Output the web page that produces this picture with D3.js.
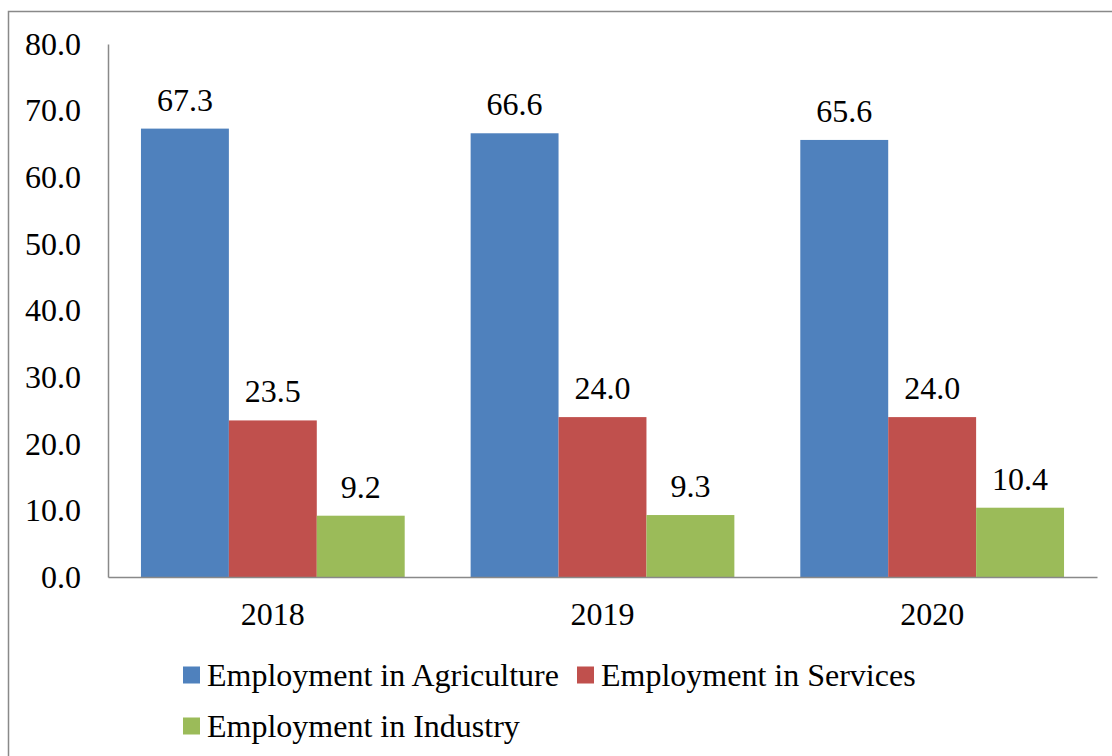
<!DOCTYPE html>
<html>
<head>
<meta charset="utf-8">
<title>Employment by sector</title>
<script src="https://d3js.org/d3.v7.min.js"></script>
<style>
	body { margin: 0; background: #fff; }
	text { font-family: "Liberation Serif", "Times New Roman", serif; fill: #000; }
</style>
</head>
<body>
<div id="chart"></div>
<script>
// data
var years = ["2018", "2019", "2020"];
var series = ["Employment in Agriculture", "Employment in Services", "Employment in Industry"];
var agriculture = [67.3, 66.6, 65.6];
var services = [23.5, 24.0, 24.0];
var industry = [9.2, 9.3, 10.4];
var yTicks = [0, 10, 20, 30, 40, 50, 60, 70, 80];

var colors = ["#4f81bd", "#c0504d", "#9bbb59"];
var values = [agriculture, services, industry];

var W = 1112, H = 756;
var plotLeft = 108, plotRight = 1097, plotTop = 44, plotBottom = 577;
var fs = "32px";

var svg = d3.select("#chart").append("svg")
	.attr("width", W)
	.attr("height", H);

// outer frame (runs off the right and bottom edge)
svg.append("rect")
	.attr("x", 8.5).attr("y", 11.5)
	.attr("width", 1200).attr("height", 900)
	.attr("fill", "none")
	.attr("stroke", "#898989")
	.attr("stroke-width", 1.5);

var x0 = d3.scaleBand()
	.domain(years)
	.range([plotLeft, plotRight])
	.paddingInner(0.2)
	.paddingOuter(0.1);

var x1 = d3.scaleBand()
	.domain(series)
	.range([0, x0.bandwidth()]);

var y = d3.scaleLinear()
	.domain([0, 80])
	.range([plotBottom, plotTop]);

// y axis
var yAxis = svg.append("g")
	.attr("transform", "translate(" + plotLeft + ",0)")
	.call(d3.axisLeft(y).tickValues(yTicks).tickSize(0).tickPadding(27).tickFormat(d3.format(".1f")));
yAxis.select(".domain").attr("stroke", "#898989").attr("stroke-width", 1.5);
yAxis.selectAll("text").style("font-size", fs).attr("font-family", null);

// bars
var groups = svg.selectAll(".year")
	.data(years)
	.enter().append("g")
	.attr("class", "year")
	.attr("transform", function(d) { return "translate(" + x0(d) + ",0)"; });

function rows(d, i) {
	return series.map(function(s, k) { return {s: s, k: k, v: values[k][i]}; });
}

groups.selectAll("rect")
	.data(rows)
	.enter().append("rect")
	.attr("x", function(d) { return x1(d.s); })
	.attr("y", function(d) { return y(d.v); })
	.attr("width", x1.bandwidth())
	.attr("height", function(d) { return plotBottom - y(d.v); })
	.attr("fill", function(d) { return colors[d.k]; });

groups.selectAll(".lbl")
	.data(rows)
	.enter().append("text")
	.attr("class", "lbl")
	.attr("x", function(d) { return x1(d.s) + x1.bandwidth() / 2; })
	.attr("y", function(d) { return y(d.v) - 18; })
	.attr("text-anchor", "middle")
	.style("font-size", fs)
	.text(function(d) { return d.v.toFixed(1); });

// x axis
var xAxis = svg.append("g")
	.attr("transform", "translate(0," + plotBottom + ")")
	.call(d3.axisBottom(x0).tickSize(0).tickPadding(25));
xAxis.select(".domain").attr("stroke", "#898989").attr("stroke-width", 1.5);
xAxis.selectAll("text").style("font-size", fs).attr("font-family", null);

// legend
var legendPos = [[183, 675], [577, 675], [183, 726]];
var legend = svg.selectAll(".legend")
	.data(series)
	.enter().append("g")
	.attr("class", "legend")
	.attr("transform", function(d, i) { return "translate(" + legendPos[i][0] + "," + legendPos[i][1] + ")"; });

legend.append("rect")
	.attr("x", 0).attr("y", -8.5)
	.attr("width", 17).attr("height", 17)
	.attr("fill", function(d, i) { return colors[i]; });

legend.append("text")
	.attr("x", 24)
	.attr("y", 0)
	.attr("dy", "0.35em")
	.style("font-size", fs)
	.text(function(d) { return d; });
</script>
</body>
</html>
